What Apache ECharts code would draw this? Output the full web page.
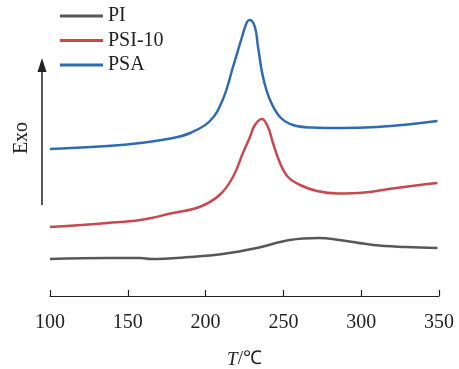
<!DOCTYPE html>
<html>
<head>
<meta charset="utf-8">
<script src="https://cdn.jsdelivr.net/npm/echarts@6/dist/echarts.min.js"></script>
<style>
  html, body { margin: 0; padding: 0; background: #fff; }
  #chart { width: 459px; height: 369px; }
</style>
</head>
<body>
<div id="chart"></div>
<script>
// values; y is an arbitrary heat-flow offset
const seriesNames = ["PI", "PSI-10", "PSA"];
const xTicks = [100, 150, 200, 250, 300, 350];

const piData = [
    [100, 37], [137, 38], [158, 38], [165, 37], [190, 39], [211, 42],
    [233, 48], [254, 56], [273, 58], [286, 56], [308, 51], [329, 49], [349, 48]
];
const psi10Data = [
    [100, 69], [137, 73], [158, 76], [179, 83], [196, 89], [209, 101],
    [217.6, 119], [224, 143], [228.5, 159], [231.7, 171], [236.2, 177],
    [240.1, 169], [243.3, 153], [247.8, 133], [253, 119], [260.7, 111],
    [271.6, 105], [285, 102.5], [302, 103.5], [320, 107.5], [340, 111.5], [349, 113]
];
const psaData = [
    [100, 147], [137, 150], [158, 153], [179, 158], [190, 163], [202.8, 175],
    [211.2, 197], [217.6, 229], [223.4, 259], [226.6, 274], [228.5, 276],
    [231.7, 269], [233.7, 249], [236.9, 219], [241.4, 196], [247.8, 179],
    [256.2, 171], [268, 168.5], [288, 168], [310, 169], [330, 171.5], [349, 175]
];

const colors = ["#585858", "#c9474e", "#2f6bb5"];
const serif = "Liberation Serif";

const chart = echarts.init(document.getElementById("chart"));

const mkSeries = (name, data, color) => ({
    name: name,
    type: "line",
    data: data,
    smooth: 0.4,
    showSymbol: false,
    lineStyle: { color: color, width: 2.5 },
    itemStyle: { color: color }
});

chart.setOption({
    animation: false,
    grid: { left: 50, right: 20, top: 10, bottom: 73, outerBoundsMode: "none" },
    legend: {
        orient: "vertical",
        left: 55,
        top: 1,
        icon: "rect",
        itemWidth: 43,
        itemHeight: 3,
        itemGap: 4.5,
        textStyle: { fontFamily: serif, fontSize: 20, lineHeight: 20, color: "#222" },
        data: seriesNames
    },
    xAxis: {
        type: "value",
        min: xTicks[0],
        max: xTicks[xTicks.length - 1],
        interval: 50,
        name: "{i|T}/℃",
        nameLocation: "middle",
        nameGap: 54,
        nameTextStyle: {
            fontFamily: serif, fontSize: 19, color: "#222",
            rich: { i: { fontFamily: serif, fontSize: 19, fontStyle: "italic", color: "#222" } }
        },
        axisLine: { lineStyle: { color: "#222", width: 1.2 } },
        axisTick: { inside: true, length: 6, lineStyle: { color: "#222", width: 1.2 } },
        axisLabel: { fontFamily: serif, fontSize: 20, color: "#222", margin: 17 },
        splitLine: { show: false }
    },
    yAxis: {
        type: "value",
        min: 0,
        max: 286,
        show: false
    },
    graphic: [
        { type: "line", shape: { x1: 42, y1: 70, x2: 42, y2: 205 }, style: { stroke: "#222", lineWidth: 1.5 } },
        { type: "polygon", shape: { points: [[42, 58], [37.5, 72], [46.5, 72]] }, style: { fill: "#222" } },
        {
            type: "text", x: 22, y: 138, rotation: Math.PI / 2,
            style: { text: "Exo", fontFamily: serif, fontSize: 20, fill: "#222", align: "center", verticalAlign: "middle" }
        }
    ],
    series: [
        mkSeries(seriesNames[0], piData, colors[0]),
        mkSeries(seriesNames[1], psi10Data, colors[1]),
        mkSeries(seriesNames[2], psaData, colors[2])
    ]
});
</script>
</body>
</html>
